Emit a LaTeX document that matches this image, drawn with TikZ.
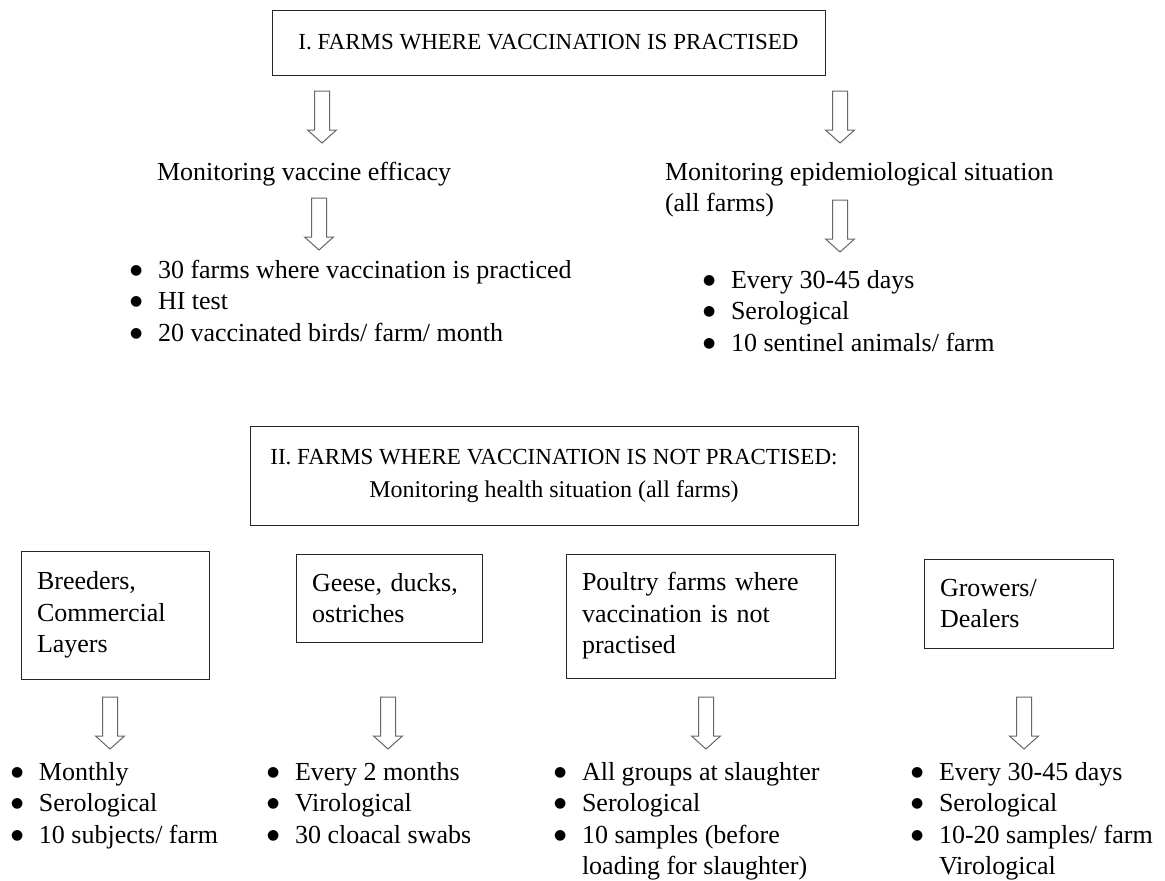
\documentclass[tikz,border=0pt]{standalone}
\usepackage{fontspec}
\setmainfont{Liberation Serif}
\newfontfamily\symfont{DejaVu Sans}
\newcommand\bodyfont{\fontsize{26}{31.5}\selectfont}
\newcommand\titlefont{\fontsize{23}{33}\selectfont}
\newcommand\bitem{\makebox[28pt][l]{\raisebox{4pt}{\symfont\fontsize{14}{14}\selectfont ●}}}
\newcommand\rows[1]{\begin{tabular}[t]{@{}l@{}}#1\end{tabular}}
\begin{document}
\begin{tikzpicture}[x=1pt,y=-1pt,
  every node/.style={inner sep=0pt, outer sep=0pt, font=\bodyfont},
  boxframe/.style={draw=black!85, line width=1pt, anchor=north west},
  boxtext/.style={boxframe, align=left, inner xsep=16pt},
  txt/.style={anchor=base west},
  arr/.style={draw=black!60, fill=white, line width=1pt},
  barrow/.pic={\path[arr] (-7.5,0) -- (-7.5,39) -- (-14.5,39) -- (0,52) -- (14.5,39) -- (7.5,39) -- (7.5,0) -- cycle;}
]
\useasboundingbox (0,0) rectangle (1165,881);

% ---- Part I ----
\node[boxframe, minimum width=553pt, minimum height=65pt, font=\titlefont] (t1) at (272,10) {I. FARMS WHERE VACCINATION IS PRACTISED};

\coordinate (a1) at (322,91);
\coordinate (a2) at (840,91);
\pic at (a1) {barrow};
\pic at (a2) {barrow};

\node[txt] (mve) at (157,180) {Monitoring vaccine efficacy};
\node[txt] (mes) at (665,180) {\rows{Monitoring epidemiological situation\\(all farms)}};

\coordinate (a3) at (319,198);
\coordinate (a4) at (840,200);
\pic at (a3) {barrow};
\pic at (a4) {barrow};

\node[txt] (l1) at (130,278) {\rows{\bitem 30 farms where vaccination is practiced\\\bitem HI test\\\bitem 20 vaccinated birds/ farm/ month}};
\node[txt] (l2) at (703,288) {\rows{\bitem Every 30-45 days\\\bitem Serological\\\bitem 10 sentinel animals/ farm}};

% ---- Part II ----
\node[boxframe, minimum width=608pt, minimum height=99pt, align=center, font=\titlefont] (t2) at (250,426) {II. FARMS WHERE VACCINATION IS NOT PRACTISED:\\{\fontsize{24}{33}\selectfont Monitoring health situation (all farms)}};

\node[boxtext, minimum width=188pt, minimum height=128pt, text width=156pt] (b1) at (21,551) {Breeders,\\Commercial\\Layers};
\node[boxtext, minimum width=186pt, minimum height=88pt, text width=154pt] (b2) at (296,554) {Geese, ducks,\\ostriches};
\node[boxtext, minimum width=269pt, minimum height=124pt, text width=237pt] (b3) at (566,554) {Poultry farms where\\vaccination is not\\practised};
\node[boxtext, minimum width=189pt, minimum height=89pt, text width=157pt] (b4) at (924,559) {Growers/\\Dealers};

\coordinate (a5) at (110,697);
\coordinate (a6) at (388,697);
\coordinate (a7) at (706,697);
\coordinate (a8) at (1024,697);
\pic at (a5) {barrow};
\pic at (a6) {barrow};
\pic at (a7) {barrow};
\pic at (a8) {barrow};

\node[txt] (c1) at (11,780) {\rows{\bitem Monthly\\\bitem Serological\\\bitem 10 subjects/ farm}};
\node[txt] (c2) at (267,780) {\rows{\bitem Every 2 months\\\bitem Virological\\\bitem 30 cloacal swabs}};
\node[txt] (c3) at (554,780) {\rows{\bitem All groups at slaughter\\\bitem Serological\\\bitem 10 samples (before\\\hspace*{28pt}loading for slaughter)}};
\node[txt] (c4) at (911,780) {\rows{\bitem Every 30-45 days\\\bitem Serological\\\bitem 10-20 samples/ farm\\\hspace*{28pt}Virological}};
\end{tikzpicture}
\end{document}
